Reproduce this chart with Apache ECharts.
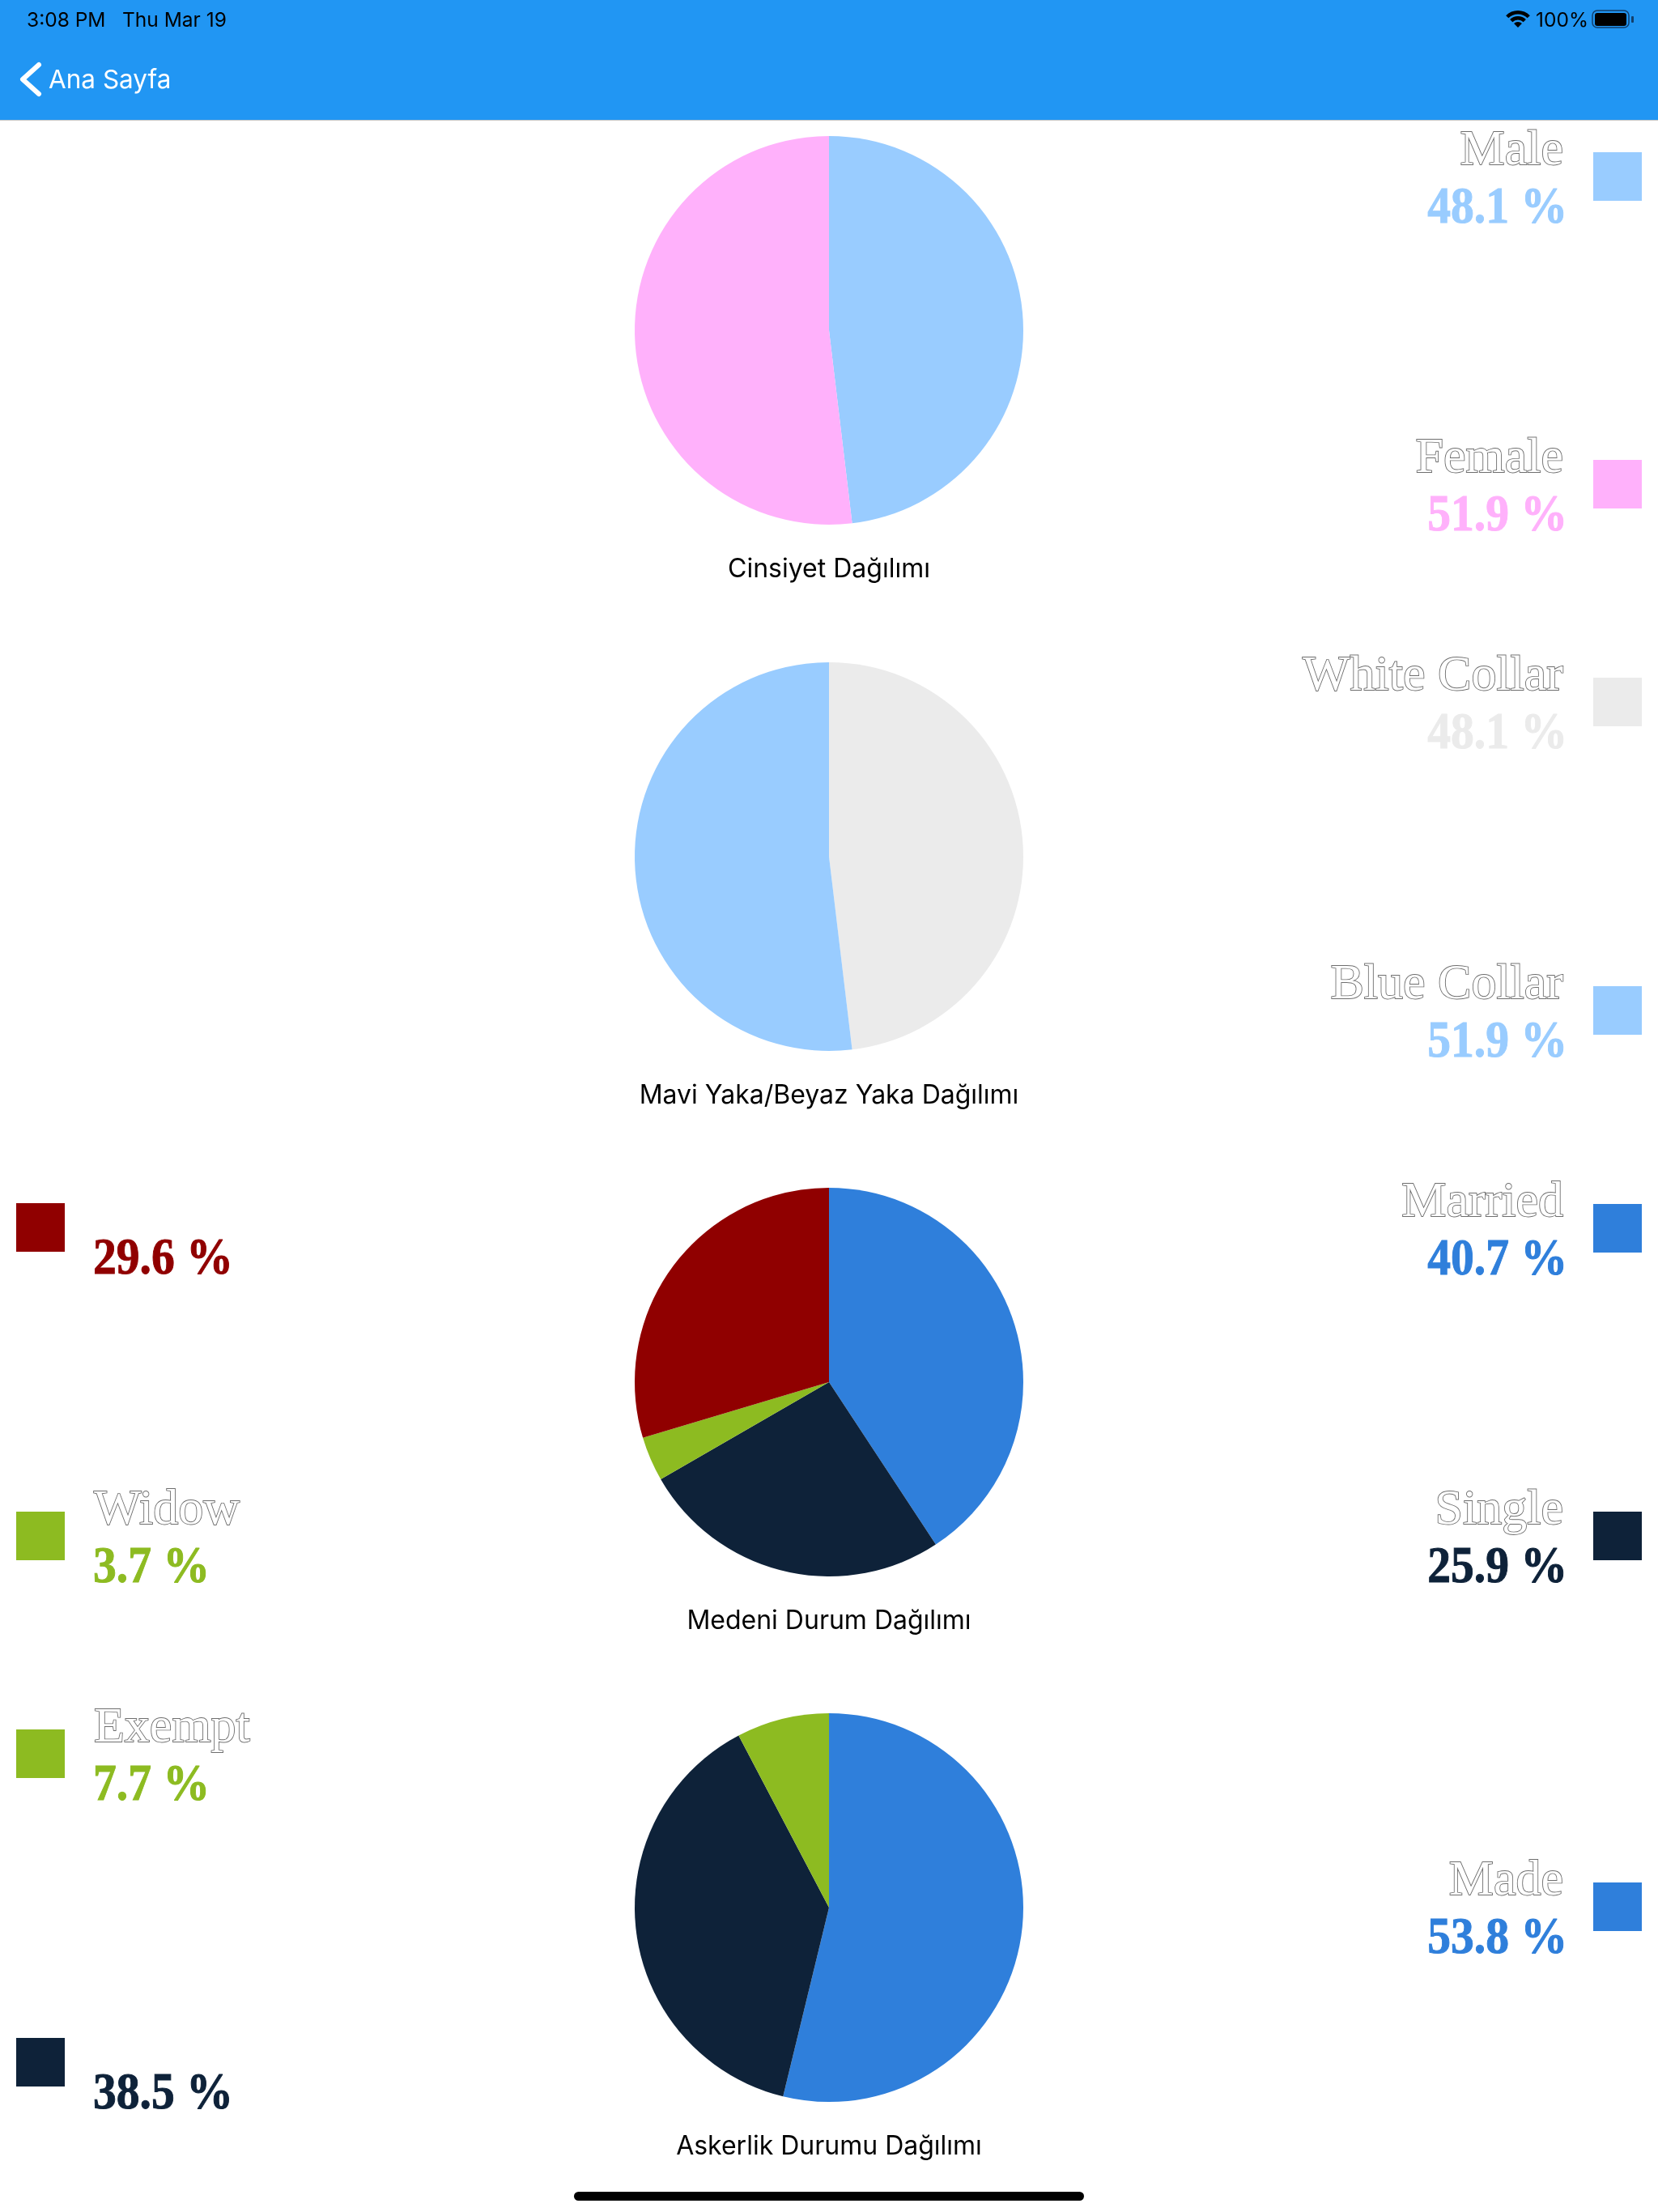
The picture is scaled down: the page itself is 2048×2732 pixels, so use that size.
<!DOCTYPE html>
<html>
<head>
<meta charset="utf-8">
<style>html,body{margin:0;padding:0;background:#fff}#main{width:2048px;height:2732px}</style>
<script src="https://cdn.jsdelivr.net/npm/echarts@6/dist/echarts.min.js"></script>
</head>
<body>
<div id="main"></div>
<script>
// Distribution values, in percent, listed clockwise from twelve o'clock
const genderLabels = ['Male', 'Female'];
const genderValues = [48.1, 51.9];
const collarLabels = ['White Collar', 'Blue Collar'];
const collarValues = [48.1, 51.9];
const maritalLabels = ['Married', 'Single', 'Widow', ''];
const maritalValues = [40.7, 25.9, 3.7, 29.6];
const militaryLabels = ['Made', '', 'Exempt'];
const militaryValues = [53.8, 38.5, 7.7];

const captions = ['Cinsiyet Dağılımı', 'Mavi Yaka/Beyaz Yaka Dağılımı', 'Medeni Durum Dağılımı', 'Askerlik Durumu Dağılımı'];

// Palette
const LIGHT_BLUE = '#99ccff', PINK = '#ffb1fb', LIGHT_GREY = '#ebebeb', BLUE = '#2f7fdb',
      NAVY = '#0e2239', GREEN = '#8dbb21', DARK_RED = '#900000';
const genderColors = [LIGHT_BLUE, PINK];
const collarColors = [LIGHT_GREY, LIGHT_BLUE];
const maritalColors = [BLUE, NAVY, GREEN, DARK_RED];
const militaryColors = [BLUE, NAVY, GREEN];

// Layout of each panel: pie centre y, and for every slice the legend side and swatch top
const pieCentreY = [408, 1058, 1707, 2356];
const genderKeys = [['r', 188], ['r', 568]];
const collarKeys = [['r', 837], ['r', 1218]];
const maritalKeys = [['r', 1487], ['r', 1867], ['l', 1867], ['l', 1486]];
const militaryKeys = [['r', 2325], ['l', 2517], ['l', 2136]];

const panels = [
  [genderLabels, genderValues, genderColors, genderKeys],
  [collarLabels, collarValues, collarColors, collarKeys],
  [maritalLabels, maritalValues, maritalColors, maritalKeys],
  [militaryLabels, militaryValues, militaryColors, militaryKeys]
];

const SERIF = '"Liberation Serif", serif';
const UI = 'Inter, Roboto, sans-serif';

const graphics = [
  // App bar
  { type: 'rect', shape: { x: 0, y: 0, width: 2048, height: 148 }, style: { fill: '#2196f3' } },
  { type: 'rect', shape: { x: 0, y: 148, width: 2048, height: 1 }, style: { fill: '#c4c4c4' } },
  { type: 'text', x: 33, y: 38, style: { text: '3:08 PM', font: '24.5px ' + UI, fill: '#000', textVerticalAlign: 'bottom' } },
  { type: 'text', x: 151, y: 38, style: { text: 'Thu Mar 19', font: '24.5px ' + UI, fill: '#000', textVerticalAlign: 'bottom' } },
  { type: 'polyline', shape: { points: [[48, 80], [28, 98], [48, 116]] },
    style: { stroke: '#fff', lineWidth: 6, lineCap: 'round', lineJoin: 'round', fill: 'none' } },
  { type: 'text', x: 60, y: 116, style: { text: 'Ana Sayfa', font: '31.5px ' + UI, fill: '#fff', textVerticalAlign: 'bottom' } },
  // Status icons
  { type: 'sector', shape: { cx: 1875, cy: 34, r0: 0, r: 7, startAngle: -Math.PI * 0.75, endAngle: -Math.PI * 0.25 }, style: { fill: '#000' } },
  { type: 'sector', shape: { cx: 1875, cy: 34, r0: 9.5, r: 14, startAngle: -Math.PI * 0.75, endAngle: -Math.PI * 0.25 }, style: { fill: '#000' } },
  { type: 'sector', shape: { cx: 1875, cy: 34, r0: 16.5, r: 21, startAngle: -Math.PI * 0.75, endAngle: -Math.PI * 0.25 }, style: { fill: '#000' } },
  { type: 'text', x: 1897, y: 38, style: { text: '100%', font: '24.5px ' + UI, fill: '#000', textVerticalAlign: 'bottom' } },
  { type: 'rect', shape: { x: 1967, y: 13, width: 45, height: 21, r: 6 }, style: { fill: 'none', stroke: '#123f6c', lineWidth: 1.5 } },
  { type: 'rect', shape: { x: 1970, y: 16, width: 39, height: 16, r: 3 }, style: { fill: '#000' } },
  { type: 'rect', shape: { x: 2015, y: 20, width: 3, height: 8, r: 1 }, style: { fill: '#123f6c' } },
  // Home indicator
  { type: 'rect', shape: { x: 709, y: 2707, width: 630, height: 11, r: 5.5 }, style: { fill: '#000' } }
];

// Legend entries: swatch, engraved name and percentage beside it
panels.forEach(([labels, values, colors, keys]) => {
  values.forEach((value, i) => {
    const [side, top] = keys[i];
    const right = side === 'r';
    graphics.push({ type: 'rect', shape: { x: right ? 1968 : 20, y: top, width: 60, height: 60 }, style: { fill: colors[i] } });
    const align = right ? 'right' : 'left';
    if (labels[i]) {
      graphics.push({ type: 'text', x: right ? 1931 : 116, y: top - 32, style: {
        text: labels[i], font: '62px ' + SERIF, fill: '#fff', stroke: '#6e6e6e', lineWidth: 1.8,
        textAlign: align, textVerticalAlign: 'top'
      } });
    }
    graphics.push({ type: 'text', x: right ? 1936 : 115, y: top + 38, scaleX: 0.9, style: {
      text: value.toFixed(1) + ' %', font: 'bold 64px ' + SERIF, fill: colors[i],
      stroke: colors[i], lineWidth: 1, textAlign: align, textVerticalAlign: 'top'
    } });
  });
});

const option = {
  animation: false,
  backgroundColor: '#fff',
  title: captions.map((text, i) => ({
    text, left: 1024, top: pieCentreY[i] + 304 - 25, textAlign: 'center',
    padding: 0,
    textStyle: { color: '#000', fontFamily: UI, fontSize: 32, fontWeight: 'normal' }
  })),
  series: panels.map(([labels, values, colors], i) => ({
    type: 'pie',
    center: [1024, pieCentreY[i]],
    radius: [0, 240],
    startAngle: 90,
    clockwise: true,
    silent: true,
    label: { show: false },
    labelLine: { show: false },
    itemStyle: { borderWidth: 0 },
    data: values.map((value, k) => ({ value, name: labels[k] || 'slice ' + k, itemStyle: { color: colors[k] } }))
  })),
  graphic: { elements: graphics }
};

echarts.init(document.getElementById('main'), null, { renderer: 'canvas' }).setOption(option);
</script>
</body>
</html>
